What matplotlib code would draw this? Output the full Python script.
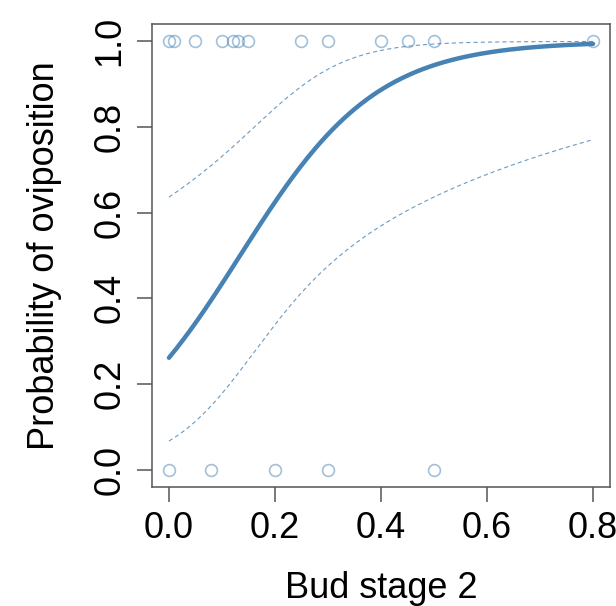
import numpy as np
import matplotlib
matplotlib.use("Agg")
import matplotlib.pyplot as plt

# Observed buds: proportion at stage 2 and whether oviposition occurred
bud_stage2_yes = [0.0, 0.01, 0.05, 0.10, 0.12, 0.13, 0.15, 0.25, 0.30, 0.40, 0.45, 0.50, 0.80]
bud_stage2_no = [0.0, 0.08, 0.20, 0.30, 0.50]

# Logistic regression fit (link scale) and its coefficient covariance
coef_intercept = -1.04
coef_slope = 7.75
cov_intercept = 0.666
cov_cross = -1.72
cov_slope = 9.6
z_crit = 1.96

x_ticks = [0.0, 0.2, 0.4, 0.6, 0.8]
y_ticks = [0.0, 0.2, 0.4, 0.6, 0.8, 1.0]

plt.rcParams["font.family"] = ["Liberation Sans", "DejaVu Sans"]
plt.rcParams["lines.scale_dashes"] = False

steel = "#4682B4"
frame = "#555555"

fig = plt.figure(figsize=(6.16, 6.06), dpi=100)
ax = fig.add_axes([152 / 616, (606 - 486.7) / 606, (610 - 152) / 616, (486.7 - 24.3) / 606])

# Prediction with a confidence band computed on the link scale
xg = np.linspace(min(bud_stage2_yes + bud_stage2_no), max(bud_stage2_yes + bud_stage2_no), 300)
eta = coef_intercept + coef_slope * xg
se = np.sqrt(cov_intercept + 2 * cov_cross * xg + cov_slope * xg ** 2)
inv_logit = lambda v: 1.0 / (1.0 + np.exp(-v))
fit = inv_logit(eta)
upper = inv_logit(eta + z_crit * se)
lower = inv_logit(eta - z_crit * se)

ax.plot(xg, upper, color=steel, lw=0.8, alpha=0.8, dashes=(3.0, 2.2))
ax.plot(xg, lower, color=steel, lw=0.8, alpha=0.8, dashes=(3.0, 2.2))
ax.plot(xg, fit, color=steel, lw=3.2, solid_capstyle="round")

ax.plot(bud_stage2_yes, np.ones(len(bud_stage2_yes)), "o", mfc="none",
        mec=steel, alpha=0.5, ms=8.5, mew=1.2, linestyle="none")
ax.plot(bud_stage2_no, np.zeros(len(bud_stage2_no)), "o", mfc="none",
        mec=steel, alpha=0.5, ms=8.5, mew=1.2, linestyle="none")

ax.set_xlim(-0.032, 0.832)
ax.set_ylim(-0.04, 1.04)
ax.set_xticks(x_ticks)
ax.set_xticklabels([f"{t:.1f}" for t in x_ticks])
ax.set_yticks(y_ticks)
ax.set_yticklabels([f"{t:.1f}" for t in y_ticks], rotation=90, va="center")

for s in ax.spines.values():
    s.set_color(frame)
    s.set_linewidth(1.1)

ax.tick_params(axis="both", direction="out", length=10.5, width=1.1, color=frame,
               labelsize=26, pad=7)

ax.set_xlabel("Bud stage 2", fontsize=26)
ax.set_ylabel("Probability of oviposition", fontsize=26)
ax.xaxis.set_label_coords(0.5, -0.183)
ax.yaxis.set_label_coords(-0.197, 0.5)

fig.savefig("out.png", dpi=100)
